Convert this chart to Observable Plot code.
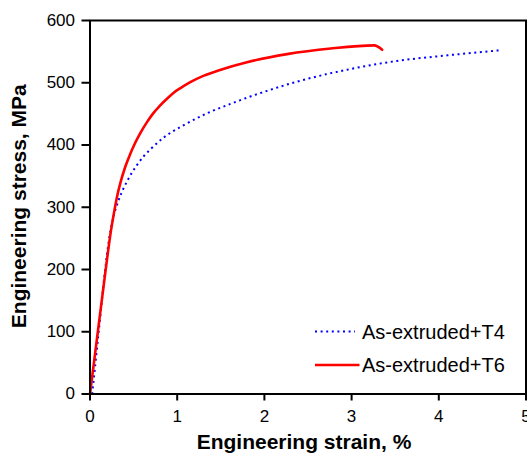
<!DOCTYPE html>
<html>
<head>
<meta charset="utf-8">
<script src="https://cdn.jsdelivr.net/npm/d3@7"></script>
<script src="https://cdn.jsdelivr.net/npm/@observablehq/plot@0.6"></script>
<style>
  html, body { margin: 0; padding: 0; background: #fff; }
  #wrap { position: relative; width: 527px; height: 454px; overflow: hidden; font-family: "Liberation Sans", Arial, sans-serif; }
  #legend { position: absolute; left: 0; top: 0; pointer-events: none; }
</style>
</head>
<body>
<div id="wrap"></div>
<script>
const seriesNames = ["As-extruded+T4", "As-extruded+T6"];
const seriesColors = ["#0000FF", "#FF0000"];

const t4Strain = [0.025, 0.10, 0.17, 0.22, 0.27, 0.33, 0.43, 0.54, 0.617, 0.70, 0.846, 1.076, 1.344, 1.61, 1.84, 2.03, 2.38, 2.95, 3.52, 4.10, 4.69];
const t4Stress = [0, 100, 195, 250, 285, 312, 343, 368, 382, 394, 412, 432, 451, 466, 478, 487, 502, 521, 535, 544, 552];

const t6Strain = [0, 0.09, 0.18, 0.24, 0.28, 0.31, 0.35, 0.40, 0.46, 0.52, 0.58, 0.65, 0.72, 0.80, 0.88, 0.96, 1.05, 1.15, 1.3, 1.5, 1.8, 2.26, 2.76, 3.26, 3.35];
const t6Stress = [0, 100, 200, 262, 295, 317, 340, 363, 385, 404, 420, 436, 450, 463, 474, 484, 492.5, 501, 511, 521, 533, 546, 555, 560, 553];

const xTicks = [0, 1, 2, 3, 4, 5];
const yTicks = [0, 100, 200, 300, 400, 500, 600];

const t4 = t4Strain.map((x, i) => ({x, y: t4Stress[i]}));
const t6 = t6Strain.map((x, i) => ({x, y: t6Stress[i]}));

const font = "'Liberation Sans', Arial, sans-serif";

const chart = Plot.plot({
  width: 527,
  height: 454,
  marginLeft: 89.5,
  marginRight: 1.5,
  marginTop: 20,
  marginBottom: 60.5,
  style: { fontFamily: font, background: "#fff", color: "#000", overflow: "visible" },
  x: { domain: [0, 5] },
  y: { domain: [0, 600] },
  marks: [
    Plot.axisX({ ticks: xTicks, tickSize: 7, tickPadding: 9, fontSize: 17, label: null, strokeWidth: 2, tickFormat: d => String(d) }),
    Plot.axisY({ ticks: yTicks, tickSize: 8, tickPadding: 7, fontSize: 17, label: null, strokeWidth: 2, tickFormat: d => String(d) }),
    Plot.line(t4, { x: "x", y: "y", stroke: seriesColors[0], strokeWidth: 2, strokeDasharray: "2,3.6", strokeLinecap: "butt", curve: "monotone-x" }),
    Plot.line(t6, { x: "x", y: "y", stroke: seriesColors[1], strokeWidth: 2.6, curve: "monotone-x" }),
    Plot.frame({ stroke: "#000", strokeWidth: 2 }),
    Plot.text(["Engineering strain, %"], { frameAnchor: "bottom", lineAnchor: "bottom", textAnchor: "middle", dy: 54.5, dx: -4, fontSize: 21, fontWeight: "bold", fill: "#000" }),
    Plot.text(["Engineering stress, MPa"], { frameAnchor: "left", lineAnchor: "bottom", textAnchor: "middle", rotate: -90, dx: -64, dy: -1, fontSize: 21, fontWeight: "bold", fill: "#000" })
  ]
});

const wrap = document.getElementById("wrap");
wrap.appendChild(chart);

// legend overlay
const ns = "http://www.w3.org/2000/svg";
const leg = document.createElementNS(ns, "svg");
leg.setAttribute("id", "legend");
leg.setAttribute("width", 527);
leg.setAttribute("height", 454);
const rows = [
  { y: 331.5, dash: "2,3.6", w: 2, x2: 355 },
  { y: 365, dash: null, w: 2.6, x2: 359.5 }
];
rows.forEach((r, i) => {
  const l = document.createElementNS(ns, "line");
  l.setAttribute("x1", 315); l.setAttribute("x2", r.x2);
  l.setAttribute("y1", r.y); l.setAttribute("y2", r.y);
  l.setAttribute("stroke", seriesColors[i]);
  l.setAttribute("stroke-width", r.w);
  if (r.dash) l.setAttribute("stroke-dasharray", r.dash);
  leg.appendChild(l);
  const t = document.createElementNS(ns, "text");
  t.setAttribute("x", 362); t.setAttribute("y", r.y);
  t.setAttribute("dy", "0.35em");
  t.setAttribute("font-size", 20);
  t.setAttribute("font-family", font);
  t.setAttribute("fill", "#000");
  t.textContent = seriesNames[i];
  leg.appendChild(t);
});
wrap.appendChild(leg);
</script>
</body>
</html>
